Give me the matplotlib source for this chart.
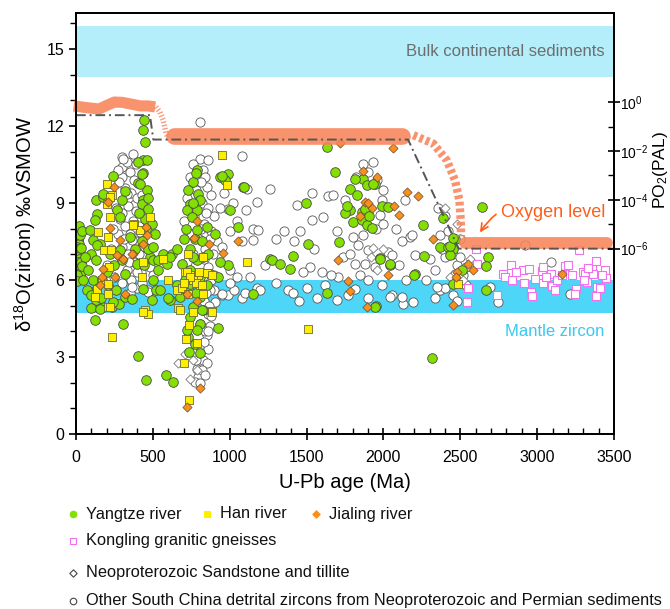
import matplotlib
matplotlib.use("Agg")
import matplotlib.pyplot as plt
from matplotlib.ticker import MultipleLocator, FixedLocator, NullFormatter
import numpy as np

plt.rcParams['font.family'] = ['Liberation Sans', 'DejaVu Sans']
plt.rcParams['mathtext.fontset'] = 'custom'
plt.rcParams['mathtext.rm'] = 'Liberation Sans'
plt.rcParams['mathtext.it'] = 'Liberation Sans:italic'
plt.rcParams['mathtext.bf'] = 'Liberation Sans:bold'

# ---------------- data ----------------
yangtze = [
    (8,8.05),(12,7.85),(6,7.7),(15,7.6),(10,7.5),(18,7.4),(8,7.3),(14,7.2),(20,7.1),(10,7.0),
    (16,6.9),(22,6.8),(12,6.7),(18,6.6),(25,6.5),(10,6.45),(20,6.35),(28,6.25),(14,6.15),(22,6.05),
    (30,6.7),(35,6.3),(40,6.55),(32,7.25),(26,7.75),(20,8.1),(40,7.9),(8,6.2),(5,5.95),(45,6.0),
    (130,9.10),(239,10.04),(178,9.23),(297,9.10),(265,8.71),(286,8.45),(139,8.58),(124,8.32),(91,7.93),
    (113,7.54),(156,7.41),(95,7.02),(130,6.77),(80,6.38),(108,5.99),(130,5.60),(130,5.21),(124,4.43),
    (178,4.95),(232,4.95),(282,5.08),(319,5.34),(362,5.27),(308,4.30),(286,7.15),(297,6.77),(319,6.25),
    (351,7.67),(384,7.22),(395,6.63),(178,9.36),(319,9.45),(60,6.9),(70,5.6),(95,4.9),(134,7.35),
    (243,5.14),(156,4.88),(200,6.3),(250,6.6),(220,7.0),(170,6.0),(260,5.6),(210,5.8),(160,5.3),(100,5.4),
    (442,12.22),(438,11.83),(449,11.38),(438,10.66),(460,10.66),(434,10.17),(405,9.78),(460,9.49),
    (438,9.10),(427,10.14),(406,10.60),(427,8.97),(471,8.78),(449,8.39),(492,8.19),(514,7.80),(482,6.89),
    (503,5.99),(521,5.60),(416,9.75),(470,9.2),(410,8.6),(455,8.0),(430,7.5),(470,7.2),(440,6.6),(500,7.3),
    (568,7.03),(623,7.03),(503,6.77),(536,6.38),(612,5.21),(547,5.60),(493,5.21),(438,5.66),(590,6.64),
    (612,6.90),(655,7.22),(688,6.64),(536,6.77),(601,5.28),(677,5.34),(660,5.8),
    (405,3.03),(453,2.09),(583,2.31),(633,2.03),
    (785,10.27),(742,8.97),(796,9.36),(807,9.10),(720,8.71),(785,8.71),(753,8.45),(716,8.00),(785,7.93),
    (850,8.06),(904,7.80),(937,10.01),(991,10.14),(1089,9.62),(970,9.88),(785,6.77),(829,6.90),(742,6.38),
    (807,6.12),(872,6.25),(926,6.12),(991,6.57),(742,5.86),(807,5.34),(764,4.95),(829,4.82),(742,4.56),
    (807,4.30),(926,4.11),(785,4.04),(731,3.78),(774,3.52),(737,3.20),(807,3.16),(720,4.04),(818,4.82),
    (937,6.70),(1056,8.06),(1154,5.47),(1262,6.83),(760,9.8),(730,9.5),(775,7.6),(740,7.2),(820,7.5),
    (860,7.0),(760,6.9),(710,6.0),(850,5.8),(780,5.5),(700,7.6),(759,9.0),(781,10.17),(948,10.04),
    (1002,8.71),(1095,9.62),
    (1273,6.79),(1327,6.64),(1392,6.44),(1414,6.92),(1511,7.42),(1494,9.01),
    (1631,11.18),(1685,10.21),(1869,9.95),(1783,9.56),(1891,9.69),(1945,9.73),(1783,8.71),(1750,8.61),
    (1859,8.65),(1880,8.78),(1989,8.87),(2032,8.84),(1804,8.26),(1859,8.35),(1891,8.13),(1924,8.04),
    (1713,7.47),(1978,6.86),(2043,6.57),(2206,6.22),(2264,6.92),(1631,5.51),(1952,4.97),(1945,4.93),
    (2201,6.19),(2043,6.62),(1978,6.81),(1815,9.95),(1934,9.75),(1830,9.3),(1760,8.9),(1905,8.5),
    (2260,8.16),(2639,8.84),(2386,8.43),(2466,7.61),(2368,7.28),(2423,7.28),(2455,7.22),(2433,6.96),
    (2683,6.90),(2668,6.53),(2668,5.62),(2455,5.83),(2318,2.98),(2509,6.38),(2433,7.32),(2455,7.62),
]
han = [
    (200,9.75),(232,9.30),(204,8.97),(221,8.45),(145,7.87),(210,7.67),(182,7.15),(226,7.15),(217,6.50),
    (167,5.99),(135,5.66),(124,5.34),(210,5.47),(210,4.95),(377,8.17),(416,7.93),(482,8.45),(434,6.70),
    (427,6.12),(449,4.82),(471,4.69),(221,9.23),(232,3.78),(210,5.86),(221,4.95),(373,8.13),
    (666,4.89),(759,4.76),(883,4.80),(737,4.24),(790,3.55),(716,3.72),(703,2.77),(737,1.34),(655,5.60),
    (829,5.47),(438,4.76),(952,10.88),(982,9.69),(1111,6.70),(731,7.02),(829,6.90),(601,6.01),(564,6.83),
    (709,6.31),(742,6.18),(796,6.18),(850,6.27),(883,6.18),(688,5.70),(731,5.47),(807,5.79),(883,4.75),
    (677,4.82),(720,6.3),(760,6.0),(780,5.9),(740,6.1),(800,6.3),(820,5.8),(700,5.9),
    (1511,4.10),(2488,5.86),
]
jialing = [
    (249,9.62),(210,9.04),(221,8.04),(286,7.54),(276,6.92),(304,6.83),(373,7.00),(178,6.44),(167,6.12),
    (156,5.79),(254,6.12),(319,5.47),(456,8.06),(460,7.74),(438,7.41),(265,6.96),(366,7.03),
    (789,8.28),(768,7.65),(867,7.39),(959,7.05),(1056,7.52),(724,5.47),(790,5.17),(807,1.80),(724,1.06),
    (1718,11.34),(2060,11.15),(1869,10.25),(1956,10.01),(2152,9.43),(2227,9.26),(1880,9.04),(1924,8.82),
    (1845,8.5),(2069,8.87),(2104,8.52),(2325,7.61),(1707,6.79),(2553,6.61),(2585,6.40),(2481,6.31),
    (2472,6.12),(2032,6.18),(1772,5.95),(1783,5.56),(2455,5.01),(1891,4.95),(3160,6.25),(1902,9.0),
]
kongling = [
    (2602,7.22),(3274,7.18),(2607,6.64),(2553,5.67),(2542,5.15),(2737,5.41),(2780,6.25),(2791,6.10),
    (2830,6.58),(2834,6.01),(2910,6.40),(2949,6.44),(2914,5.88),(2958,5.53),(2965,5.37),(2986,6.05),
    (3029,6.35),(3040,6.51),(3036,5.88),(3088,6.25),(3094,5.75),(3116,5.62),(3130,6.0),(3181,6.53),
    (3203,6.57),(3253,5.66),(3246,5.47),(3300,6.31),(3311,6.25),(3326,5.92),(3355,6.44),(3383,6.74),
    (3392,5.73),(3441,6.40),(3448,6.09),(3383,5.36),(3409,5.67),(3366,6.25),(3333,6.45),(3307,6.00),
    (3160,6.2),(3060,6.1),(2860,6.3),(3230,6.2),(3420,6.2),
]
neo_sandstone = [
    (666,2.77),(742,2.16),(790,2.5),(760,2.9),(800,3.4),(710,3.1),(1934,7.23),(1920,6.9),(1960,6.4),
    (2000,7.2),(2430,6.1),(2520,6.0),(2560,6.8),(2480,8.2),(2400,8.8),
]
other = [
    (297,10.79),(373,10.90),(297,10.4),(297,10.0),(384,8.97),(330,10.6),(350,10.2),(390,10.5),(320,9.6),
    (360,9.4),(400,9.2),(340,8.9),(300,8.6),(370,8.3),(410,8.1),(350,7.8),(390,7.5),(300,7.3),(340,7.0),
    (410,7.0),(380,6.7),(330,6.4),(420,6.3),(360,6.0),(300,5.9),(400,5.7),(350,5.5),(250,6.1),(270,7.8),
    (260,8.8),(480,6.5),(500,6.2),(470,5.6),(280,9.8),(230,7.2),(200,6.6),(450,7.3),(430,9.3),(308,10.73),
    (286,8.39),(416,7.87),(362,7.54),(362,5.73),(471,5.53),(330,9.36),(320,8.1),(390,8.7),(345,6.7),
    (315,7.6),(375,9.9),(270,10.3),(400,6.3),(240,8.0),(430,5.9),
    (807,12.15),(807,10.73),(861,10.66),(1082,10.83),(829,10.27),(850,9.62),(1110,9.56),(1176,9.04),
    (1262,9.56),(991,8.78),(760,10.5),(740,10.0),(780,9.5),(820,9.0),(770,8.5),(830,8.2),(860,8.8),
    (720,9.2),(700,8.3),(750,7.8),(880,7.9),(900,8.5),(800,7.6),(840,7.2),(760,7.0),(890,7.0),(920,7.5),
    (950,7.3),(720,6.7),(860,6.5),(900,6.2),(1000,6.4),(807,4.30),(850,3.85),(829,2.87),(785,2.55),
    (796,2.22),(774,2.03),(850,2.75),(818,3.39),(861,4.69),(904,5.15),(870,4.2),(840,4.0),(860,3.3),
    (820,2.5),(780,2.9),(900,5.6),(950,5.4),(991,5.41),(1078,5.28),(1176,5.67),(948,5.47),(1030,5.6),
    (1000,5.9),(1050,6.1),(1100,5.5),(1130,6.1),(1200,5.6),(830,5.2),(870,5.6),(960,9.4),(1020,9.0),
    (1050,8.3),(1150,8.0),(1080,7.5),(1000,7.9),(940,8.8),(1106,8.71),(1186,7.93),(1154,7.54),
    (840,10.0),(810,9.8),(880,9.3),(845,8.6),(815,8.0),(870,7.6),(835,6.8),(880,6.0),(845,5.5),(865,5.0),
    (880,4.6),(830,3.6),(805,2.0),(840,2.3),(860,4.0),
    (1436,8.91),(1533,9.39),(1642,9.26),(1300,7.6),(1350,7.9),(1420,7.5),(1460,7.9),(1550,7.2),(1380,5.6),
    (1450,5.2),(1500,5.7),(1520,6.5),(1598,6.31),(1533,8.32),(1609,8.45),(1230,6.6),(1300,5.9),(1410,5.5),
    (1480,6.3),(1570,5.3),
    (1674,9.30),(1869,10.53),(1934,10.60),(1989,9.10),(2141,9.10),(1978,8.52),(1804,7.67),(1869,7.74),
    (1837,7.35),(1902,7.16),(2032,7.09),(2054,6.96),(2206,6.96),(2173,7.67),(1707,6.12),(1815,5.66),
    (2054,5.40),(2130,5.08),(1945,6.51),(1815,6.64),(1880,6.64),(1902,5.99),(1989,5.80),(2043,5.34),
    (2195,5.15),(2119,5.34),(1902,5.28),(1696,5.21),(1700,7.9),(1750,9.1),(1820,10.0),(1900,10.2),
    (1960,9.9),(2000,9.5),(2080,8.0),(2120,7.5),(1740,6.9),(1660,6.2),(2150,6.0),(2100,6.6),(1780,7.0),
    (1950,8.0),(2000,8.2),(1850,6.2),(1620,5.8),(1770,5.4),
    (2184,7.75),(2336,5.28),(2368,5.60),(2401,5.67),(2466,6.25),(2336,6.38),(2368,7.74),(2357,8.80),
    (2347,5.72),(2400,8.5),(2420,7.9),(2450,7.0),(2480,6.6),(2500,6.9),(2520,6.2),(2540,5.8),(2300,6.8),
    (2400,6.9),(2450,5.4),(2480,5.2),(2380,7.2),(2280,6.0),(2500,7.6),(2540,6.5),
    (2694,5.73),(2748,5.15),(3091,6.71),(3214,5.47),(2921,7.36),
]

bulk_band = (13.9, 15.9)
mantle_band = (4.7, 6.0)

# oxygen-level schematic (age, d18O-axis position)
oxy_early = [(-15,12.78),(60,12.72),(150,12.66),(200,12.8),(250,12.93),(300,12.92),(360,12.85),
             (420,12.78),(470,12.78),(515,12.74)]
oxy_trans1 = [(520,12.74),(546,12.54),(568,12.22),(586,11.7),(600,11.55)]
oxy_mid = [(640,11.62),(2120,11.62)]
oxy_trans2 = [(2195,11.64),(2325,11.31),(2412,10.66),(2466,9.88),(2494,9.10),(2503,8.32),(2505,7.7)]
oxy_late = [(2530,7.45),(3455,7.45)]
step_line = [(0,12.42),(481,12.42),(503,11.47),(2160,11.47),(2490,7.22),(3500,7.22)]

# ---------------- figure ----------------
fig = plt.figure(figsize=(6.7, 6.09), dpi=100)
ax = fig.add_axes([76/670, 1-434/609, 538/670, 421/609])

ax.axhspan(*bulk_band, color='#B3EEFA', lw=0, zorder=0)
ax.axhspan(*mantle_band, color='#4DD6F7', lw=0, zorder=0)

def xy(lst):
    a = np.array(lst, dtype=float)
    return a[:, 0], a[:, 1]

x, y = xy(other)
ax.scatter(x, y, s=44, marker='o', facecolor='white', edgecolor='#555555', linewidth=0.6, zorder=2)
x, y = xy(neo_sandstone)
ax.scatter(x, y, s=22, marker='D', facecolor='white', edgecolor='#777777', linewidth=0.6, zorder=2)
x, y = xy(kongling)
ax.scatter(x, y, s=30, marker='s', facecolor='white', edgecolor='#F070F0', linewidth=0.8, zorder=3)
x, y = xy(yangtze)
ax.scatter(x, y, s=48, marker='o', facecolor='#84E000', edgecolor='#4a4a4a', linewidth=0.6, zorder=4)
x, y = xy(han)
ax.scatter(x, y, s=32, marker='s', facecolor='#FFEE00', edgecolor='#6a6a3a', linewidth=0.6, zorder=5)
x, y = xy(jialing)
ax.scatter(x, y, s=22, marker='D', facecolor='#F7901E', edgecolor='#6a4a2a', linewidth=0.5, zorder=6)

oc = '#F9845A'
x, y = xy(oxy_early)
ax.plot(x, y, color=oc, lw=8, alpha=0.88, solid_capstyle='butt', solid_joinstyle='round', zorder=7, clip_on=False)
x, y = xy(oxy_trans1)
ax.plot(x, y, color=oc, lw=4, alpha=0.8, linestyle=(0, (0.25, 0.35)), zorder=7)
x, y = xy(oxy_mid)
ax.plot(x, y, color=oc, lw=12, alpha=0.88, solid_capstyle='round', zorder=7)
x, y = xy(oxy_trans2)
ax.plot(x, y, color=oc, lw=6, alpha=0.88, linestyle=(0, (0.45, 0.35)), dash_capstyle='butt', zorder=7)
x, y = xy(oxy_late)
ax.plot(x, y, color=oc, lw=8.5, alpha=0.88, solid_capstyle='round', zorder=7)
x, y = xy(step_line)
ax.plot(x, y, color='#555555', lw=1.4, linestyle=(0, (5, 2, 1, 2)), zorder=8)

ax.text(3440, 14.9, 'Bulk continental sediments', ha='right', va='center', fontsize=12, color='#6E6E6E')
ax.text(3440, 4.0, 'Mantle zircon', ha='right', va='center', fontsize=12, color='#38C8F0')
ax.annotate('Oxygen level', xy=(2628, 7.85), xytext=(2765, 8.62), ha='left', va='center',
            fontsize=13, color='#FF5E1A',
            arrowprops=dict(arrowstyle='->', color='#FF5E1A', lw=1.2,
                            connectionstyle='arc3,rad=0.45', shrinkA=2, shrinkB=0))

ax.set_xlim(0, 3500)
ax.set_ylim(0, 16.4)
ax.xaxis.set_major_locator(MultipleLocator(500))
ax.xaxis.set_minor_locator(MultipleLocator(100))
ax.yaxis.set_major_locator(MultipleLocator(3))
ax.yaxis.set_minor_locator(MultipleLocator(1))
ax.tick_params(axis='x', which='major', direction='inout', length=9, width=1.2, labelsize=11.5, pad=7)
ax.tick_params(axis='x', which='minor', direction='in', length=4, width=1)
ax.tick_params(axis='y', which='major', direction='out', length=5, width=1.2, labelsize=11.5)
ax.tick_params(axis='y', which='minor', direction='out', length=4, width=1)
for sp in ax.spines.values():
    sp.set_linewidth(1.3)
ax.set_xlabel('U-Pb age (Ma)', fontsize=14.5, labelpad=6)
ax.set_ylabel('δ$^{18}$O(zircon) ‰VSMOW', fontsize=14.5, labelpad=6)

ax2 = ax.twinx()
ax2.set_yscale('log')
ax2.set_ylim(10**-13.586, 10**3.646)
ax2.yaxis.set_major_locator(FixedLocator([1e0, 1e-2, 1e-4, 1e-6]))
ax2.set_yticklabels(['$10^{0}$', '$10^{-2}$', '$10^{-4}$', '$10^{-6}$'])
ax2.yaxis.set_minor_locator(FixedLocator([1e-1, 1e-3, 1e-5]))
ax2.yaxis.set_minor_formatter(NullFormatter())
ax2.tick_params(axis='y', which='major', direction='inout', length=8, width=1.2, labelsize=10, pad=0.5)
ax2.tick_params(axis='y', which='minor', direction='in', length=4, width=1)
for sp in ax2.spines.values():
    sp.set_linewidth(1.3)
fig.text(660/670, 1-170/609, 'PO$_2$(PAL)', rotation=90, ha='center', va='center', fontsize=12.5)

# legend (figure pixel layout)
lax = fig.add_axes([0, 0, 1, 1], facecolor='none')
lax.set_xlim(0, 670)
lax.set_ylim(609, 0)
lax.axis('off')
leg_rows = [
    [(73, 514, 'o', '#84E000', '#84E000', 'Yangtze river'),
     (207, 514, 's', '#FFEE00', '#FFEE00', 'Han river'),
     (316, 514, 'D', '#F7901E', '#F7901E', 'Jialing river')],
    [(73, 541, 's', 'white', '#F070F0', 'Kongling granitic gneisses')],
    [(73, 573, 'D', 'white', '#444444', 'Neoproterozoic Sandstone and tillite')],
    [(73, 601, 'o', 'white', '#444444', 'Other South China detrital zircons from Neoproterozoic and Permian sediments')],
]
for row in leg_rows:
    for (px, py, mk, fc, ec, lab) in row:
        lax.scatter([px], [py], s=22 if mk != 'D' else 14, marker=mk, facecolor=fc, edgecolor=ec, linewidth=0.8)
        lax.text(px + 13, py, lab, ha='left', va='center', fontsize=11.8, color='#111111')

fig.savefig('out.png', dpi=100)
